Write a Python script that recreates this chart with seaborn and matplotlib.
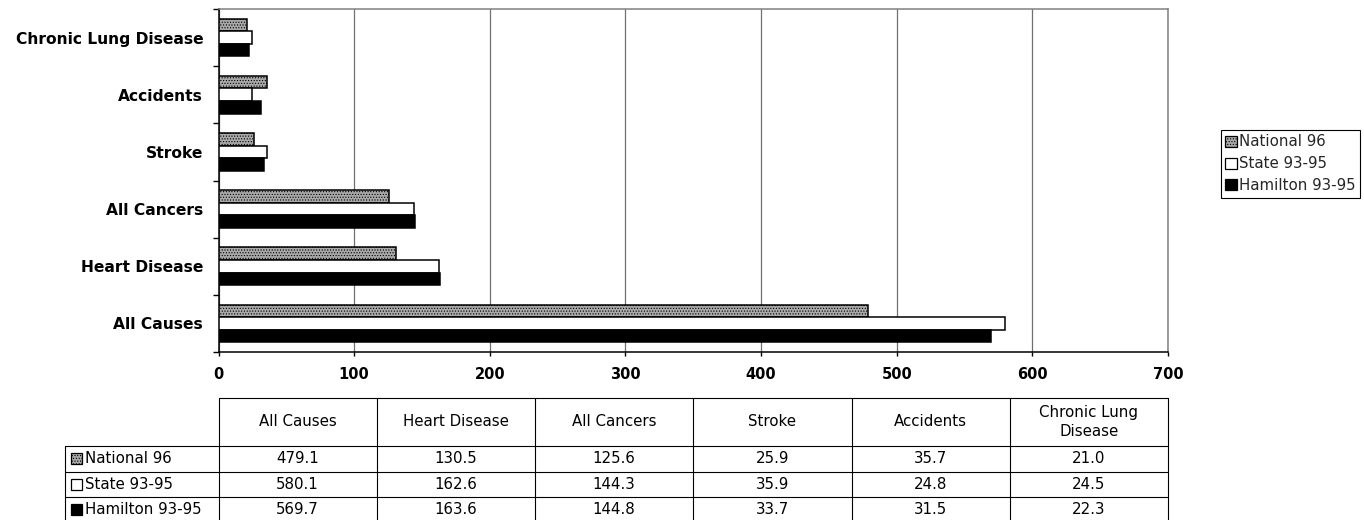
import numpy as np
import pandas as pd
import matplotlib
matplotlib.use("Agg")
import matplotlib.pyplot as plt
import seaborn as sns
from matplotlib.patches import Rectangle, Patch
from matplotlib.lines import Line2D

# ---------------- data ----------------
causes = ["All Causes", "Heart Disease", "All Cancers", "Stroke", "Accidents", "Chronic Lung Disease"]
series = ["National 96", "State 93-95", "Hamilton 93-95"]
national = [479.1, 130.5, 125.6, 25.9, 35.7, 21.0]
state = [580.1, 162.6, 144.3, 35.9, 24.8, 24.5]
hamilton = [569.7, 163.6, 144.8, 33.7, 31.5, 22.3]
table_headers = ["All Causes", "Heart Disease", "All Cancers", "Stroke", "Accidents", "Chronic Lung\nDisease"]
x_ticks = [0, 100, 200, 300, 400, 500, 600, 700]

colors = {"National 96": "#a9a9a9", "State 93-95": "#ffffff", "Hamilton 93-95": "#000000"}
hatches = {"National 96": "......", "State 93-95": "", "Hamilton 93-95": ""}
values = {"National 96": national, "State 93-95": state, "Hamilton 93-95": hamilton}

df = pd.DataFrame(
    [(c, s, v) for s in series for c, v in zip(causes, values[s])],
    columns=["cause", "series", "value"],
)

W, H = 1364, 520
sns.set_theme(style="white")
plt.rcParams["font.family"] = ["DejaVu Sans"]
plt.rcParams["hatch.linewidth"] = 0.5

fig = plt.figure(figsize=(W / 100, H / 100), dpi=100)
fig.patch.set_facecolor("white")

def fx(x):
    return x / W

def fy(y):
    return 1 - y / H

ax_l, ax_r, ax_t, ax_b = 218.5, 1168, 9, 352
ax = fig.add_axes([fx(ax_l), fy(ax_b), fx(ax_r - ax_l), (ax_b - ax_t) / H])

sns.barplot(
    data=df, y="cause", x="value", hue="series",
    order=causes[::-1], hue_order=series, orient="h",
    palette=colors, width=0.66, saturation=1,
    edgecolor="black", linewidth=1.1, legend=False, ax=ax, zorder=3,
)
# stipple texture for the first series (containers follow hue order)
for cont, s in zip(ax.containers, series):
    for bar in cont:
        bar.set_hatch(hatches[s])

ax.set_xlim(0, 700)
ax.set_ylim(len(causes) - 0.5, -0.5)
ax.set_xticks(x_ticks)
ax.set_xticklabels([str(t) for t in x_ticks], fontweight="bold", fontsize=10.5)
ax.set_xlabel("")
ax.set_ylabel("")
ax.set_axisbelow(True)
ax.grid(axis="x", color="#707070", linewidth=0.9, zorder=0)
ax.grid(axis="y", visible=False)

for lbl in ax.get_yticklabels():
    lbl.set_fontweight("bold")
    lbl.set_fontsize(11.2)
ax.tick_params(axis="y", which="major", length=0, pad=11)
ax.set_yticks(np.arange(-0.5, len(causes), 1.0), minor=True)
ax.tick_params(axis="y", which="minor", length=4, width=1, color="black", direction="out", left=True)
ax.tick_params(axis="x", which="major", length=3, width=1, color="black", direction="out", bottom=True, pad=8, labelcolor="black")
ax.tick_params(axis="y", labelcolor="black")

ax.spines["left"].set_color("black")
ax.spines["bottom"].set_color("black")
ax.spines["left"].set_linewidth(1.1)
ax.spines["bottom"].set_linewidth(1.1)
ax.spines["top"].set_color("#808080")
ax.spines["right"].set_color("#808080")
ax.spines["top"].set_linewidth(1.1)
ax.spines["right"].set_linewidth(1.1)
for s in ax.spines.values():
    s.set_visible(True)

# ---------------- legend ----------------
handles = [Patch(facecolor=colors[s], edgecolor="black", linewidth=0.9, hatch=hatches[s]) for s in series]
leg = fig.legend(
    handles, series, loc="upper right", bbox_to_anchor=(fx(1360), fy(130)),
    bbox_transform=fig.transFigure, borderaxespad=0, frameon=True, fancybox=False,
    edgecolor="black", framealpha=1, fontsize=10.8, handlelength=0.75, handleheight=0.75,
    handletextpad=0.15, borderpad=0.3, labelspacing=0.45,
)
leg.get_frame().set_linewidth(0.8)

# ---------------- data table ----------------
col_w = (ax_r - ax_l) / len(causes)
xs = [ax_l + i * col_w for i in range(len(causes) + 1)]
lab_l = 65
y_top, y_head = 398, 446
row_h = 25.5
row_edges = [y_head + i * row_h for i in range(len(series) + 1)]
lw_t = 0.8

def line(x0, y0, x1, y1, color="black"):
    fig.add_artist(Line2D([fx(x0), fx(x1)], [fy(y0), fy(y1)], transform=fig.transFigure,
                          color=color, linewidth=lw_t))

line(xs[0], y_top, xs[-1], y_top)
for ye in row_edges:
    line(lab_l, ye, xs[-1], ye)
line(lab_l, y_head, lab_l, row_edges[-1])
for xe in xs:
    line(xe, y_top, xe, row_edges[-1])

for i, h in enumerate(table_headers):
    fig.text(fx((xs[i] + xs[i + 1]) / 2), fy((y_top + y_head) / 2), h, ha="center", va="center",
             fontsize=10.8, linespacing=1.3, color="black")

for r, s in enumerate(series):
    yc = (row_edges[r] + row_edges[r + 1]) / 2
    sw = 11
    fig.add_artist(Rectangle((fx(71), fy(yc + sw / 2)), sw / W, sw / H, transform=fig.transFigure,
                             facecolor=colors[s], edgecolor="black", linewidth=0.9, hatch=hatches[s]))
    fig.text(fx(85), fy(yc), s, ha="left", va="center", fontsize=10.8, color="black")
    for i, v in enumerate(values[s]):
        fig.text(fx((xs[i] + xs[i + 1]) / 2), fy(yc), f"{v:.1f}", ha="center", va="center",
                 fontsize=10.8, color="black")

fig.savefig("out.png", dpi=100, facecolor="white")
